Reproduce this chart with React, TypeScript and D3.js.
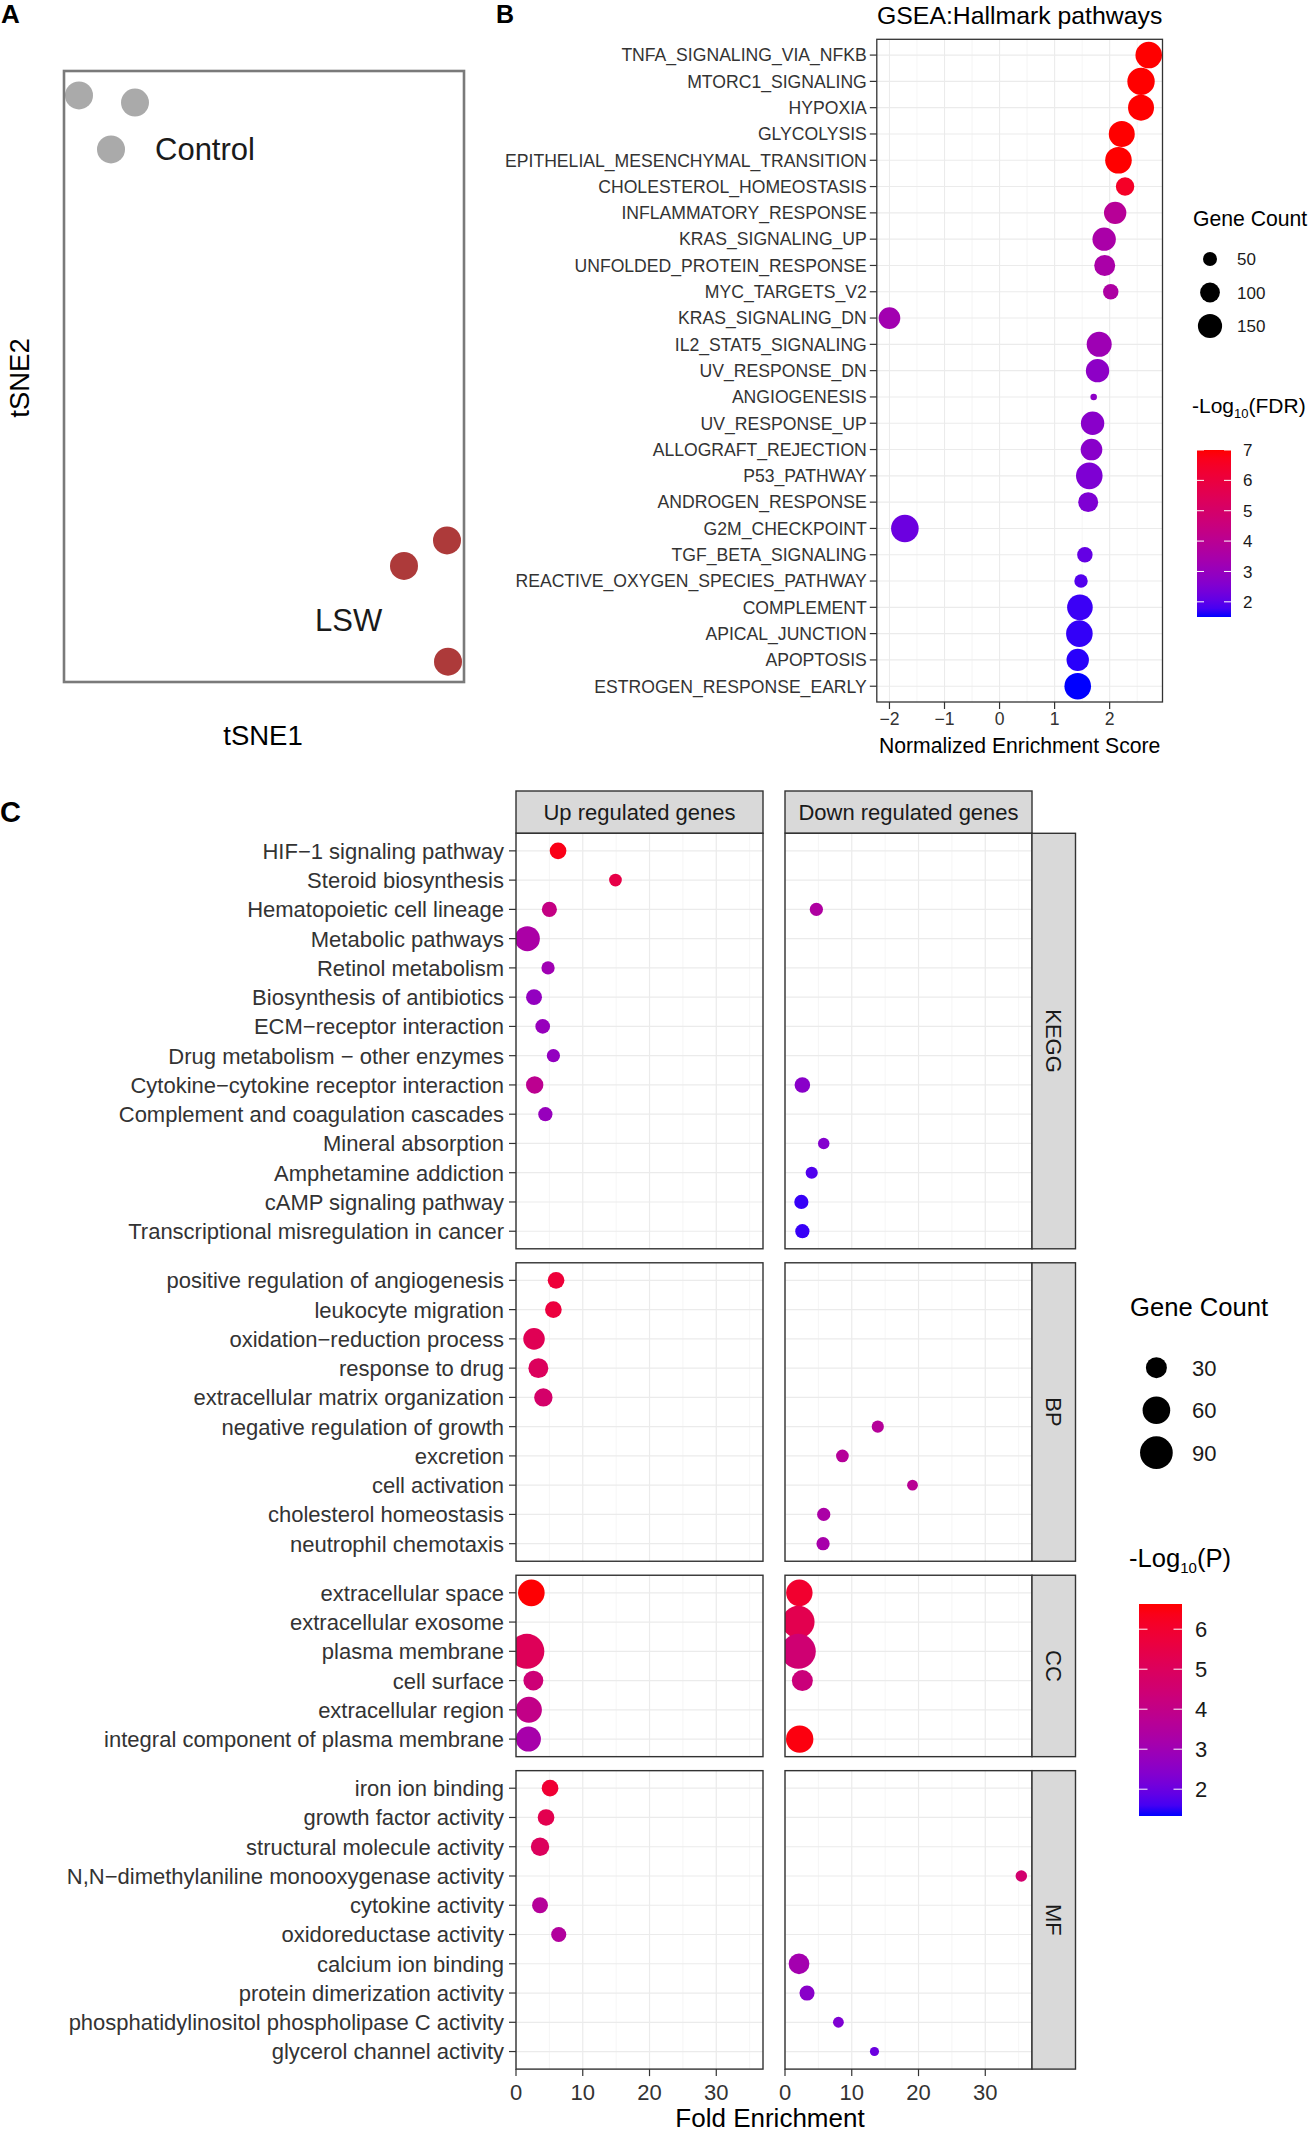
import React from "react";
import * as d3 from "d3";

const FONT = "'Liberation Sans', Arial, Helvetica, sans-serif";
const AXIS_TEXT = "#333333";

// ---------------- Panel A: tSNE ----------------
const tsneGroup = ["Control", "Control", "Control", "LSW", "LSW", "LSW"];
const tsne1 = [-18.5, -12.9, -15.3, 18.3, 14.0, 18.4];
const tsne2 = [27.6, 26.9, 22.3, -16.1, -18.6, -28.0];
const tsneLabels = ["Control", "LSW"];
const tsneLabelX = [-10.9, 5.1];
const tsneLabelY = [22.4, -23.9];

// ---------------- Panel B: GSEA hallmark ----------------
const hallmarkPathways = [
  "TNFA_SIGNALING_VIA_NFKB",
  "MTORC1_SIGNALING",
  "HYPOXIA",
  "GLYCOLYSIS",
  "EPITHELIAL_MESENCHYMAL_TRANSITION",
  "CHOLESTEROL_HOMEOSTASIS",
  "INFLAMMATORY_RESPONSE",
  "KRAS_SIGNALING_UP",
  "UNFOLDED_PROTEIN_RESPONSE",
  "MYC_TARGETS_V2",
  "KRAS_SIGNALING_DN",
  "IL2_STAT5_SIGNALING",
  "UV_RESPONSE_DN",
  "ANGIOGENESIS",
  "UV_RESPONSE_UP",
  "ALLOGRAFT_REJECTION",
  "P53_PATHWAY",
  "ANDROGEN_RESPONSE",
  "G2M_CHECKPOINT",
  "TGF_BETA_SIGNALING",
  "REACTIVE_OXYGEN_SPECIES_PATHWAY",
  "COMPLEMENT",
  "APICAL_JUNCTION",
  "APOPTOSIS",
  "ESTROGEN_RESPONSE_EARLY",
];
const hallmarkNES = [2.71, 2.57, 2.57, 2.22, 2.16, 2.28, 2.1, 1.9, 1.91, 2.02, -2.0, 1.81, 1.78, 1.71, 1.69, 1.67, 1.63, 1.61, -1.72, 1.55, 1.48, 1.46, 1.45, 1.42, 1.42];
const hallmarkCount = [181, 192, 173, 173, 181, 87, 128, 140, 113, 61, 120, 160, 140, 11, 140, 120, 181, 102, 195, 61, 46, 168, 181, 128, 181];
const hallmarkLogFDR = [7, 7, 7, 7, 7, 6.5, 3.9, 3.5, 3.5, 3.6, 3.3, 3.2, 2.8, 2.8, 2.7, 2.7, 2.5, 2.5, 2.2, 2.1, 1.9, 1.7, 1.65, 1.6, 1.5];
const nesTicks = [-2, -1, 0, 1, 2];
const nesMinor = [-1.5, -0.5, 0.5, 1.5, 2.5];
const geneCountBreaksB = [50, 100, 150];
const fdrBreaks = [2, 3, 4, 5, 6, 7];

// ---------------- Panel C: enrichment ----------------
const ontologies = ["KEGG", "BP", "CC", "MF"];
const directions = ["Up regulated genes", "Down regulated genes"];
const keggTerms = [
  "HIF\u22121 signaling pathway",
  "Steroid biosynthesis",
  "Hematopoietic cell lineage",
  "Metabolic pathways",
  "Retinol metabolism",
  "Biosynthesis of antibiotics",
  "ECM\u2212receptor interaction",
  "Drug metabolism \u2212 other enzymes",
  "Cytokine\u2212cytokine receptor interaction",
  "Complement and coagulation cascades",
  "Mineral absorption",
  "Amphetamine addiction",
  "cAMP signaling pathway",
  "Transcriptional misregulation in cancer",
];
const bpTerms = [
  "positive regulation of angiogenesis",
  "leukocyte migration",
  "oxidation\u2212reduction process",
  "response to drug",
  "extracellular matrix organization",
  "negative regulation of growth",
  "excretion",
  "cell activation",
  "cholesterol homeostasis",
  "neutrophil chemotaxis",
];
const ccTerms = [
  "extracellular space",
  "extracellular exosome",
  "plasma membrane",
  "cell surface",
  "extracellular region",
  "integral component of plasma membrane",
];
const mfTerms = [
  "iron ion binding",
  "growth factor activity",
  "structural molecule activity",
  "N,N\u2212dimethylaniline monooxygenase activity",
  "cytokine activity",
  "oxidoreductase activity",
  "calcium ion binding",
  "protein dimerization activity",
  "phosphatidylinositol phospholipase C activity",
  "glycerol channel activity",
];

// [term index, fold enrichment, gene count, -log10(P)]
const upKEGG = [[0, 6.3, 16, 6.4], [1, 14.9, 7, 5.5], [2, 5.0, 12, 4.1], [3, 1.7, 47, 3.3], [4, 4.8, 8, 3.0], [5, 2.7, 14, 2.7], [6, 4.0, 11, 2.8], [7, 5.6, 8, 2.7], [8, 2.8, 18, 3.8], [9, 4.4, 10, 2.8]];
const downKEGG = [[2, 4.7, 8, 3.4], [8, 2.6, 13, 2.5], [10, 5.8, 5, 2.4], [11, 4.0, 6, 1.7], [12, 2.45, 10, 1.5], [13, 2.6, 10, 1.5]];
const upBP = [[0, 6.0, 16, 5.8], [1, 5.6, 16, 5.7], [2, 2.7, 32, 5.2], [3, 3.35, 26, 5.0], [4, 4.1, 21, 4.7]];
const downBP = [[5, 13.9, 6, 3.6], [6, 8.6, 7, 3.6], [7, 19.1, 4, 3.7], [8, 5.8, 8, 3.3], [9, 5.7, 8, 3.2]];
const upCC = [[0, 2.3, 55, 6.6], [2, 1.63, 105, 5.1], [3, 2.6, 26, 4.4], [4, 1.93, 52, 4.0], [5, 1.86, 47, 3.2]];
const downCC = [[0, 2.15, 54, 6.0], [1, 2.0, 88, 5.3], [2, 2.0, 105, 4.5], [3, 2.6, 30, 4.3], [5, 2.2, 59, 6.5]];
const upMF = [[0, 5.1, 16, 5.9], [1, 4.5, 16, 5.3], [2, 3.6, 21, 5.0], [4, 3.6, 14, 3.6], [5, 6.4, 12, 3.5]];
const downMF = [[3, 35.4, 5, 4.6], [6, 2.1, 29, 3.1], [7, 3.3, 12, 2.5], [8, 8.0, 4, 2.3], [9, 13.4, 2, 2.0]];
const foldTicks = [0, 10, 20, 30];
const foldMinor = [5, 15, 25, 35];
const geneCountBreaksC = [30, 60, 90];
const pBreaks = [2, 3, 4, 5, 6];

function Gradient({ id, scale, lo, hi }: { id: string; scale: any; lo: number; hi: number }) {
  const stops = d3.range(0, 21).map((i) => {
    const v = lo + ((hi - lo) * i) / 20;
    return <stop key={i} offset={`${(i / 20) * 100}%`} stopColor={scale(v)} />;
  });
  return (
    <linearGradient id={id} x1="0" y1="1" x2="0" y2="0">
      {stops}
    </linearGradient>
  );
}

export default function App() {
  React.useEffect(() => {
    document.body.style.margin = "0";
  }, []);

  // ---------- Panel A scales ----------
  const xA = d3.scaleLinear().domain([-20, 20]).range([64, 464]);
  const yA = d3.scaleLinear().domain([-30, 30]).range([682, 71]);
  const colA = (g: string) => (g === "Control" ? "#aaaaaa" : "#ad3a3a");

  // ---------- Panel B scales ----------
  const bLeft = 876.8, bRight = 1162.5, bTop = 39.3, bBottom = 702;
  const xB = d3.scaleLinear().domain([-2.23, 2.96]).range([bLeft, bRight]);
  const yB = d3.scalePoint<string>().domain(hallmarkPathways).range([bTop, bBottom]).padding(0.6);
  const sizeB = d3.scaleSqrt().domain([0, 160]).range([0, 12.5]);
  const fdrLo = 1.5, fdrHi = 7;
  const colB = d3.scaleLinear<string>().domain([fdrLo, fdrHi]).range(["blue", "red"]).interpolate(d3.interpolateLab);
  const barB = { x: 1197, w: 34, top: 450, bottom: 617 };
  const yBarB = d3.scaleLinear().domain([fdrLo, fdrHi]).range([barB.bottom, barB.top]);

  // ---------- Panel C scales ----------
  const upRange: [number, number] = [516, 763];
  const downRange: [number, number] = [785, 1032];
  const xUp = d3.scaleLinear().domain([0, 37]).range(upRange);
  const xDown = d3.scaleLinear().domain([0, 37]).range(downRange);
  const sizeC = d3.scaleSqrt().domain([0, 100]).range([2.5, 17.1]);
  const pLo = 1.33, pHi = 6.63;
  const colC = d3.scaleLinear<string>().domain([pLo, pHi]).range(["blue", "red"]).interpolate(d3.interpolateLab);
  const barC = { x: 1139, w: 43, top: 1604, bottom: 1816 };
  const yBarC = d3.scaleLinear().domain([pLo, pHi]).range([barC.bottom, barC.top]);

  const termsBy: Record<string, string[]> = { KEGG: keggTerms, BP: bpTerms, CC: ccTerms, MF: mfTerms };
  const upBy: Record<string, number[][]> = { KEGG: upKEGG, BP: upBP, CC: upCC, MF: upMF };
  const downBy: Record<string, number[][]> = { KEGG: downKEGG, BP: downBP, CC: downCC, MF: downMF };
  const rowUnit = 29.26, panelGap = 14, cTop = 833.3;
  let acc = cTop;
  const facetRows = ontologies.map((o) => {
    const n = termsBy[o].length;
    const h = (n + 0.2) * rowUnit;
    const top = acc;
    acc += h + panelGap;
    const y = d3.scalePoint<string>().domain(termsBy[o]).range([top, top + h]).padding(0.6);
    return { o, top, bottom: top + h, y };
  });
  const cBottom = facetRows[facetRows.length - 1].bottom;
  const stripTop = 791;

  const panelC = (xs: any, range: [number, number], row: any, data: number[][], key: string) => {
    const terms = termsBy[row.o];
    const clipId = `clip-${key}`;
    return (
      <g key={key}>
        <clipPath id={clipId}>
          <rect x={range[0]} y={row.top} width={range[1] - range[0]} height={row.bottom - row.top} />
        </clipPath>
        <rect x={range[0]} y={row.top} width={range[1] - range[0]} height={row.bottom - row.top} fill="#fff" />
        {foldMinor.map((t) => (
          <line key={`mi${t}`} x1={xs(t)} x2={xs(t)} y1={row.top} y2={row.bottom} stroke="#f0f0f0" strokeWidth={0.7} />
        ))}
        {terms.map((t: string) => (
          <line key={`h${t}`} x1={range[0]} x2={range[1]} y1={row.y(t)} y2={row.y(t)} stroke="#ebebeb" strokeWidth={1.2} />
        ))}
        {foldTicks.map((t) => (
          <line key={`ma${t}`} x1={xs(t)} x2={xs(t)} y1={row.top} y2={row.bottom} stroke="#ebebeb" strokeWidth={1.2} />
        ))}
        <g clipPath={`url(#${clipId})`}>
          {data.map((d, i) => (
            <circle key={i} cx={xs(d[1])} cy={row.y(terms[d[0]])} r={sizeC(d[2])} fill={colC(d[3])} />
          ))}
        </g>
        <rect x={range[0]} y={row.top} width={range[1] - range[0]} height={row.bottom - row.top} fill="none" stroke="#333" strokeWidth={1.4} />
      </g>
    );
  };

  const lastRow = facetRows[facetRows.length - 1];

  return (
    <svg width={1309} height={2135} style={{ position: "absolute", left: 0, top: 0, background: "#fff" }} fontFamily={FONT}>
      <defs>
        <Gradient id="gradB" scale={colB} lo={fdrLo} hi={fdrHi} />
        <Gradient id="gradC" scale={colC} lo={pLo} hi={pHi} />
      </defs>
      <rect x={0} y={0} width={1309} height={2135} fill="#fff" />

      {/* ---------------- Panel A ---------------- */}
      <text x={1} y={23} fontSize={26} fontWeight="bold" fill="#000">A</text>
      {tsne1.map((v, i) => (
        <circle key={i} cx={xA(v)} cy={yA(tsne2[i])} r={14} fill={colA(tsneGroup[i])} />
      ))}
      <rect x={64} y={71} width={400} height={611} fill="none" stroke="#7a7a7a" strokeWidth={2.6} />
      {tsneLabels.map((l, i) => (
        <text key={l} x={xA(tsneLabelX[i])} y={yA(tsneLabelY[i])} dy="0.36em" fontSize={31} fill="#1a1a1a">{l}</text>
      ))}
      <text x={263} y={735} dy="0.36em" fontSize={27.5} textAnchor="middle" fill="#000">tSNE1</text>
      <text transform="translate(19,378) rotate(-90)" dy="0.36em" fontSize={27.5} textAnchor="middle" fill="#000">tSNE2</text>

      {/* ---------------- Panel B ---------------- */}
      <text x={496} y={23} fontSize={25} fontWeight="bold" fill="#000">B</text>
      <text x={(bLeft + bRight) / 2} y={15} dy="0.36em" fontSize={24.8} textAnchor="middle" fill="#000">GSEA:Hallmark pathways</text>
      <rect x={bLeft} y={bTop} width={bRight - bLeft} height={bBottom - bTop} fill="#fff" />
      {nesMinor.map((t) => (
        <line key={`bm${t}`} x1={xB(t)} x2={xB(t)} y1={bTop} y2={bBottom} stroke="#f0f0f0" strokeWidth={0.7} />
      ))}
      {hallmarkPathways.map((p) => (
        <line key={`bh${p}`} x1={bLeft} x2={bRight} y1={yB(p)} y2={yB(p)} stroke="#ebebeb" strokeWidth={1.1} />
      ))}
      {nesTicks.map((t) => (
        <line key={`bt${t}`} x1={xB(t)} x2={xB(t)} y1={bTop} y2={bBottom} stroke="#ebebeb" strokeWidth={1.1} />
      ))}
      {hallmarkPathways.map((p, i) => (
        <circle key={`bc${p}`} cx={xB(hallmarkNES[i])} cy={yB(p)} r={sizeB(hallmarkCount[i])} fill={colB(hallmarkLogFDR[i])} />
      ))}
      <rect x={bLeft} y={bTop} width={bRight - bLeft} height={bBottom - bTop} fill="none" stroke="#333" strokeWidth={1.3} />
      {hallmarkPathways.map((p) => (
        <g key={`by${p}`}>
          <line x1={bLeft - 7} x2={bLeft} y1={yB(p)} y2={yB(p)} stroke="#333" strokeWidth={1.2} />
          <text x={bLeft - 10} y={yB(p)} dy="0.36em" fontSize={17.6} textAnchor="end" fill={AXIS_TEXT}>{p}</text>
        </g>
      ))}
      {nesTicks.map((t) => (
        <g key={`bx${t}`}>
          <line x1={xB(t)} x2={xB(t)} y1={bBottom} y2={bBottom + 7} stroke="#333" strokeWidth={1.2} />
          <text x={xB(t)} y={719} dy="0.36em" fontSize={17.6} textAnchor="middle" fill={AXIS_TEXT}>{t < 0 ? `\u2212${Math.abs(t)}` : t}</text>
        </g>
      ))}
      <text x={(bLeft + bRight) / 2} y={745} dy="0.36em" fontSize={21.2} textAnchor="middle" fill="#000">Normalized Enrichment Score</text>

      {/* Legend B */}
      <text x={1193} y={218} dy="0.36em" fontSize={21.2} fill="#000">Gene Count</text>
      {geneCountBreaksB.map((b, i) => (
        <g key={`lb${b}`}>
          <circle cx={1210} cy={259 + i * 33.5} r={sizeB(b)} fill="#000" />
          <text x={1237} y={259 + i * 33.5} dy="0.36em" fontSize={17} fill="#1a1a1a">{b}</text>
        </g>
      ))}
      <text x={1192} y={405} dy="0.36em" fontSize={21} fill="#000">
        -Log<tspan dy={5} fontSize={13}>10</tspan>
        <tspan dy={-5}>(FDR)</tspan>
      </text>
      <rect x={barB.x} y={barB.top} width={barB.w} height={barB.bottom - barB.top} fill="url(#gradB)" />
      {fdrBreaks.map((b) => (
        <g key={`fb${b}`}>
          <line x1={barB.x} x2={barB.x + 7} y1={yBarB(b)} y2={yBarB(b)} stroke="#fff" strokeWidth={1} />
          <line x1={barB.x + barB.w - 7} x2={barB.x + barB.w} y1={yBarB(b)} y2={yBarB(b)} stroke="#fff" strokeWidth={1} />
          <text x={1243} y={yBarB(b)} dy="0.36em" fontSize={17} fill="#1a1a1a">{b}</text>
        </g>
      ))}

      {/* ---------------- Panel C ---------------- */}
      <text x={0} y={822} fontSize={29} fontWeight="bold" fill="#000">C</text>
      {directions.map((d, i) => {
        const r = i === 0 ? upRange : downRange;
        return (
          <g key={d}>
            <rect x={r[0]} y={stripTop} width={r[1] - r[0]} height={cTop - stripTop} fill="#d9d9d9" stroke="#333" strokeWidth={1.4} />
            <text x={(r[0] + r[1]) / 2} y={(stripTop + cTop) / 2} dy="0.36em" fontSize={22} textAnchor="middle" fill="#1a1a1a">{d}</text>
          </g>
        );
      })}
      {facetRows.map((row) => (
        <g key={row.o}>
          {panelC(xUp, upRange, row, upBy[row.o], `up-${row.o}`)}
          {panelC(xDown, downRange, row, downBy[row.o], `down-${row.o}`)}
          <rect x={downRange[1]} y={row.top} width={43.5} height={row.bottom - row.top} fill="#d9d9d9" stroke="#333" strokeWidth={1.4} />
          <text transform={`translate(${downRange[1] + 21.75},${(row.top + row.bottom) / 2}) rotate(90)`} dy="0.36em" fontSize={22} textAnchor="middle" fill="#1a1a1a">{row.o}</text>
          {termsBy[row.o].map((t: string) => (
            <g key={t}>
              <line x1={upRange[0] - 7} x2={upRange[0]} y1={row.y(t)} y2={row.y(t)} stroke="#333" strokeWidth={1.2} />
              <text x={upRange[0] - 12} y={row.y(t)} dy="0.36em" fontSize={22} textAnchor="end" fill={AXIS_TEXT}>{t}</text>
            </g>
          ))}
        </g>
      ))}
      {[xUp, xDown].map((xs, k) =>
        foldTicks.map((t) => (
          <g key={`fx${k}-${t}`}>
            <line x1={xs(t)} x2={xs(t)} y1={lastRow.bottom} y2={lastRow.bottom + 7} stroke="#333" strokeWidth={1.2} />
            <text x={xs(t)} y={cBottom + 22.5} dy="0.36em" fontSize={22} textAnchor="middle" fill={AXIS_TEXT}>{t}</text>
          </g>
        ))
      )}
      <text x={770} y={2118} dy="0.36em" fontSize={26} textAnchor="middle" fill="#000">Fold Enrichment</text>

      {/* Legend C */}
      <text x={1130} y={1307} dy="0.36em" fontSize={25.6} fill="#000">Gene Count</text>
      {geneCountBreaksC.map((b, i) => (
        <g key={`lc${b}`}>
          <circle cx={1156.4} cy={1367.7 + i * 42.5} r={sizeC(b)} fill="#000" />
          <text x={1192} y={1367.7 + i * 42.5} dy="0.36em" fontSize={22} fill="#1a1a1a">{b}</text>
        </g>
      ))}
      <text x={1129} y={1558} dy="0.36em" fontSize={25.6} fill="#000">
        -Log<tspan dy={6} fontSize={15}>10</tspan>
        <tspan dy={-6}>(P)</tspan>
      </text>
      <rect x={barC.x} y={barC.top} width={barC.w} height={barC.bottom - barC.top} fill="url(#gradC)" />
      {pBreaks.map((b) => (
        <g key={`pb${b}`}>
          <line x1={barC.x} x2={barC.x + 8.5} y1={yBarC(b)} y2={yBarC(b)} stroke="#fff" strokeWidth={1} />
          <line x1={barC.x + barC.w - 8.5} x2={barC.x + barC.w} y1={yBarC(b)} y2={yBarC(b)} stroke="#fff" strokeWidth={1} />
          <text x={1195} y={yBarC(b)} dy="0.36em" fontSize={22} fill="#1a1a1a">{b}</text>
        </g>
      ))}
    </svg>
  );
}
